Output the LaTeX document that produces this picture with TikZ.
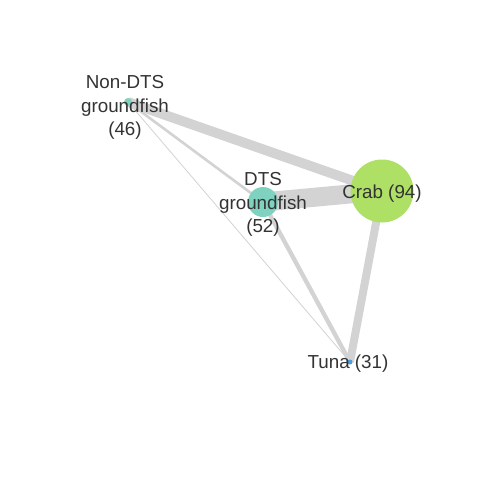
\documentclass[tikz,border=0pt]{standalone}
\usepackage{fontspec}
\setmainfont{Liberation Sans}
\definecolor{edgegray}{RGB}{211,211,211}
\definecolor{tealc}{RGB}{127,210,192}
\definecolor{greenc}{RGB}{174,224,102}
\definecolor{bluec}{RGB}{74,158,222}
\definecolor{txt}{RGB}{51,51,51}
\tikzset{
  vert/.style={circle,inner sep=0pt,draw=none},
  lbl/.style={text=txt,align=center,font=\fontsize{18.8}{23.5}\selectfont,inner sep=0pt},
  edge/.style={draw=edgegray}
}
\begin{document}
\begin{tikzpicture}[x=1pt,y=-1pt]
\useasboundingbox (0,0) rectangle (480,480);
\fill[white] (0,0) rectangle (480,480);
\coordinate (nd) at (128,102);
\coordinate (dt) at (263,202);
\coordinate (cr) at (382,191);
\coordinate (tu) at (350,362);
% edges
\draw[edge,line width=0.8pt] (nd) -- (tu);
\draw[edge,line width=2.6pt] (nd) -- (dt);
\draw[edge,line width=4.3pt] (dt) -- (tu);
\draw[edge,line width=8pt] (cr) -- (tu);
\draw[edge,line width=9.8pt] (nd) -- (cr);
\draw[edge,line width=19pt] (dt) -- (cr);
% vertices
\node[vert,fill=tealc,minimum size=8pt] (ndv) at (nd) {};
\node[vert,fill=tealc,minimum size=30pt] (dtv) at (dt) {};
\node[vert,fill=greenc,minimum size=63pt] (crv) at (cr) {};
\node[vert,fill=bluec,minimum size=5pt] (tuv) at (tu) {};
% labels
\node[lbl] (ndl) at (125,107.5) {Non-DTS\\groundfish\\(46)};
\node[lbl] (dtl) at (263,204.5) {DTS\\groundfish\\(52)};
\node[lbl] (crl) at (382,193.5) {Crab (94)};
\node[lbl] (tul) at (348,364) {Tuna (31)};
\end{tikzpicture}
\end{document}
